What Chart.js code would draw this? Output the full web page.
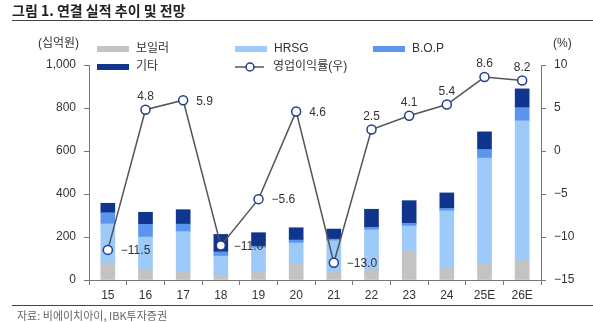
<!DOCTYPE html>
<html>
<head>
<meta charset="utf-8">
<script src="https://cdn.jsdelivr.net/npm/chart.js@4"></script>
<style>
  body { margin: 0; background: #fff; }
  #wrap { position: relative; width: 593px; height: 322px; font-family: "Noto Sans CJK KR", "Noto Sans", sans-serif; }
  #title { position: absolute; left: 12px; top: 0px; font-size: 14px; font-weight: bold; color: #222; line-height: 20px; }
  #topline { position: absolute; left: 12px; right: 0; top: 20px; border-top: 1.5px solid #444; }
  #botline { position: absolute; left: 12px; right: 0; top: 305px; border-top: 1.5px solid #444; }
  #source { position: absolute; left: 17px; top: 308px; font-size: 11px; color: #666; line-height: 14px; }
  canvas { position: absolute; left: 0; top: 0; }
</style>
</head>
<body>
<div id="wrap">
  <canvas id="c" width="593" height="322"></canvas>
  <div id="title">그림 1. 연결 실적 추이 및 전망</div>
  <div id="topline"></div>
  <div id="botline"></div>
  <div id="source">자료: 비에이치아이, IBK투자증권</div>
</div>
<script>
// categories (years)
const years = ["15", "16", "17", "18", "19", "20", "21", "22", "23", "24", "25E", "26E"];

// revenue by segment, 십억원
const boiler = [79, 47, 39, 23, 39, 74, 39, 47, 135, 54, 74, 90];
const hrsg   = [182, 153, 186, 88, 110, 98, 144, 186, 116, 268, 493, 650];
const bop    = [52, 59, 35, 20, 8, 14, 7, 12, 13, 11, 40, 62];
const other  = [44, 56, 67, 81, 63, 57, 47, 84, 105, 72, 82, 87];

// operating margin, %
const opm = [-11.5, 4.8, 5.9, -11.0, -5.6, 4.6, -13.0, 2.5, 4.1, 5.4, 8.6, 8.2];

// where each margin label sits: r = right of point, t = above
const labelPos = ["r", "t", "r", "r", "r", "r", "r", "t", "t", "t", "t", "t"];

const leftTicks = [0, 200, 400, 600, 800, 1000];
const rightTicks = [-15, -10, -5, 0, 5, 10];

const colors = {
  boiler: "#c3c3c3",
  hrsg: "#9dcaf8",
  bop: "#5b95ee",
  other: "#0f358c",
  line: "#555555",
  marker: "#1e3f8c"
};

const font = "'Liberation Sans', 'Noto Sans CJK KR', sans-serif";
const minus = (s) => String(s).replace("-", "\u2212");

// legend + labels drawn on the canvas
const extras = {
  id: "extras",
  afterDatasetsDraw(chart) {
    const ctx = chart.ctx;
    ctx.save();
    ctx.font = "12px " + font;
    ctx.fillStyle = "#333";
    ctx.textBaseline = "middle";

    // margin labels
    const meta = chart.getDatasetMeta(4);
    meta.data.forEach((pt, i) => {
      const txt = minus(opm[i].toFixed(1));
      if (labelPos[i] === "t") {
        ctx.textAlign = "center";
        ctx.fillText(txt, pt.x, pt.y - 13);
      } else {
        ctx.textAlign = "left";
        ctx.fillText(txt, pt.x + 13, pt.y + 1);
      }
    });

    // units
    ctx.textAlign = "left";
    ctx.fillText("(십억원)", 38, 44);
    ctx.fillText("(%)", 553, 44);

    // legend
    const items = [
      { t: "보일러", c: colors.boiler, x: 97, y: 49 },
      { t: "HRSG", c: colors.hrsg, x: 235, y: 49 },
      { t: "B.O.P", c: colors.bop, x: 373, y: 49 },
      { t: "기타", c: colors.other, x: 97, y: 67 }
    ];
    items.forEach((it) => {
      ctx.fillStyle = it.c;
      ctx.fillRect(it.x, it.y - 3, 32, 6);
      ctx.fillStyle = "#333";
      ctx.fillText(it.t, it.x + 39, it.y);
    });
    ctx.strokeStyle = colors.line;
    ctx.lineWidth = 1.5;
    ctx.beginPath();
    ctx.moveTo(235, 67);
    ctx.lineTo(264, 67);
    ctx.stroke();
    ctx.beginPath();
    ctx.arc(250, 67, 4, 0, Math.PI * 2);
    ctx.fillStyle = "#fff";
    ctx.fill();
    ctx.strokeStyle = colors.marker;
    ctx.stroke();
    ctx.fillStyle = "#333";
    ctx.fillText("영업이익률(우)", 273, 67);
    ctx.restore();
  }
};

const barDs = (label, data, color) => ({
  type: "bar",
  label: label,
  data: data,
  backgroundColor: color,
  yAxisID: "y",
  stack: "s",
  barThickness: 14,
  order: 1
});

new Chart(document.getElementById("c"), {
  data: {
    labels: years,
    datasets: [
      barDs("보일러", boiler, colors.boiler),
      barDs("HRSG", hrsg, colors.hrsg),
      barDs("B.O.P", bop, colors.bop),
      barDs("기타", other, colors.other),
      {
        type: "line",
        label: "영업이익률(우)",
        data: opm,
        yAxisID: "y1",
        borderColor: colors.line,
        borderWidth: 1.5,
        pointRadius: 4.5,
        pointBackgroundColor: "#fff",
        pointBorderColor: colors.marker,
        pointBorderWidth: 1.5,
        tension: 0,
        order: 0
      }
    ]
  },
  options: {
    responsive: false,
    animation: false,
    layout: { padding: { top: 65, left: 0, right: 0, bottom: 0 } },
    plugins: {
      legend: { display: false },
      tooltip: { enabled: false }
    },
    scales: {
      x: {
        stacked: true,
        grid: { display: true, drawOnChartArea: false, tickLength: 5, color: "#777", offset: true },
        border: { color: "#777" },
        ticks: { color: "#333", font: { size: 12, family: font }, padding: 3 },
        afterFit(s) { s.height = 42; }
      },
      y: {
        position: "left",
        stacked: true,
        min: 0,
        max: 1000,
        afterBuildTicks(s) { s.ticks = leftTicks.map((v) => ({ value: v })); },
        grid: { display: true, drawOnChartArea: false, tickLength: 5, color: "#777" },
        border: { color: "#777" },
        ticks: {
          color: "#333",
          font: { size: 12, family: font },
          padding: 8,
          callback: (v) => v.toLocaleString("en-US")
        },
        afterFit(s) { s.width = 89; }
      },
      y1: {
        position: "right",
        min: -15,
        max: 10,
        afterBuildTicks(s) { s.ticks = rightTicks.map((v) => ({ value: v })); },
        grid: { display: true, drawOnChartArea: false, tickLength: 5, color: "#777" },
        border: { color: "#777" },
        ticks: {
          color: "#333",
          font: { size: 12, family: font },
          padding: 8,
          callback: (v) => minus(v)
        },
        afterFit(s) { s.width = 52; }
      }
    }
  },
  plugins: [extras]
});
</script>
</body>
</html>
